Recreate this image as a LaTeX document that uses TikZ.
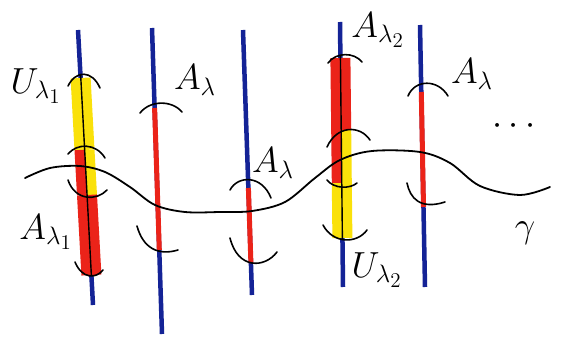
\documentclass[tikz,border=0pt]{standalone}
\begin{document}
\begin{tikzpicture}[x=1pt,y=-1pt,
  fiberline/.style={draw=fblue,line width=4.5pt},
  thinred/.style={draw=fred,line width=5pt},
  wideband/.style={line width=20pt},
  halfband/.style={line width=10pt},
  coreline/.style={draw=black,line width=1.4pt},
  brk/.style={draw=black,line width=1.6pt,line cap=round},
  wave/.style={draw=black,line width=1.8pt,line cap=round},
  lab/.style={font=\huge,scale=1.75,inner sep=0pt}]
\definecolor{fblue}{RGB}{20,35,150}
\definecolor{fred}{RGB}{235,35,25}
\definecolor{fyellow}{RGB}{250,225,10}
\useasboundingbox (0,0) rectangle (565,337);
\fill[white] (0,0) rectangle (565,337);

% fiber end points
\coordinate (t1) at (78,30);  \coordinate (b1) at (93,305);
\coordinate (t2) at (152,28); \coordinate (b2) at (162,334);
\coordinate (t3) at (243,30); \coordinate (b3) at (252,295);
\coordinate (t4) at (340,22); \coordinate (b4) at (343,287);
\coordinate (t5) at (420,25); \coordinate (b5) at (425,287);

% blue fibers
\foreach \i in {1,...,5} \draw[fiberline] (t\i) -- (b\i);

% fiber 1 bands
\draw[wideband,draw=fyellow] (80.6,78) -- (84.5,150);
\draw[halfband,draw=fred] (79.5,150) -- (82,195);
\draw[halfband,draw=fyellow] (89.5,150) -- (92,195);
\draw[wideband,draw=fred] (87,195) -- (91.4,275);
\draw[coreline] (80.6,74) -- (91.4,276);

% fiber 4 bands
\draw[wideband,draw=fred] (340.4,58) -- (341.2,130);
\draw[halfband,draw=fred] (336.2,130) -- (336.8,183);
\draw[halfband,draw=fyellow] (346.2,130) -- (346.8,183);
\draw[wideband,draw=fyellow] (341.8,183) -- (342.4,238);
\draw[coreline] (340.4,56) -- (342.4,240);

% thin red segments
\draw[thinred] (154.6,108) -- (159.3,250);
\draw[thinred] (248.4,188) -- (250.9,263);
\draw[thinred] (421.3,92) -- (423.5,207);

% brackets
\draw[brk] (68,86) .. controls (76,70) and (92,70) .. (100,88);
\draw[brk] (68,154) .. controls (77,143) and (96,143) .. (105,158);
\draw[brk] (68,180) .. controls (75,201) and (97,201) .. (107,190);
\draw[brk] (75,262) .. controls (82,279) and (96,279) .. (103,270);
\draw[brk] (140,113) .. controls (150,100) and (172,100) .. (182,112);
\draw[brk] (137,226) .. controls (143,248) and (158,256) .. (178,250);
\draw[brk] (230,190) .. controls (238,175) and (262,175) .. (271,198);
\draw[brk] (230,238) .. controls (238,270) and (265,268) .. (277,252);
\draw[brk] (328,63) .. controls (336,52) and (354,52) .. (362,62);
\draw[brk] (327,147) .. controls (337,125) and (360,125) .. (370,140);
\draw[brk] (327,180) .. controls (334,189) and (350,189) .. (357,183);
\draw[brk] (323,225) .. controls (333,244) and (357,244) .. (367,230);
\draw[brk] (408,96) .. controls (415,79) and (438,79) .. (448,96);
\draw[brk] (407,183) .. controls (410,198) and (420,210) .. (445,202);

% wave curve
\draw[wave] plot[smooth,tension=0.55] coordinates {(25,178) (50,168) (80,166) (105,172) (130,187) (155,205) (185,212) (220,212) (252,211) (285,202) (315,178) (340,160) (372,151) (420,152) (450,163) (480,186) (520,195) (550,187)};

% labels
\node[lab] (lu1) at (36,86) {$U_{\lambda_1}$};
\node[lab] (la1) at (46,232) {$A_{\lambda_1}$};
\node[lab] (la2a) at (195,80) {$A_{\lambda}$};
\node[lab] (la3) at (273,163) {$A_{\lambda}$};
\node[lab] (la4) at (378,30) {$A_{\lambda_2}$};
\node[lab] (lu4) at (377,270) {$U_{\lambda_2}$};
\node[lab] (la5) at (472,74) {$A_{\lambda}$};
\node[lab] (dots) at (514,126) {$\cdots$};
\node[lab] (gam) at (525,233) {$\gamma$};
\end{tikzpicture}
\end{document}
